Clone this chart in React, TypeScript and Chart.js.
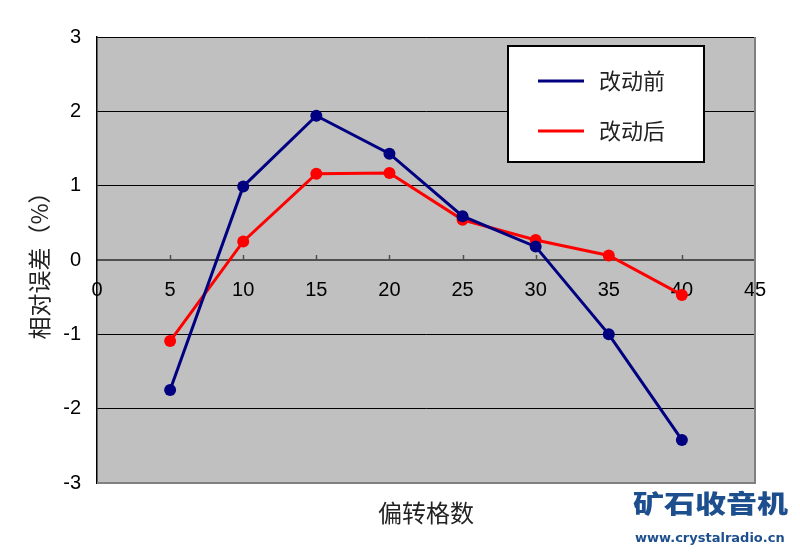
import React, { useEffect, useRef } from "react";
import { Chart, registerables } from "chart.js";

Chart.register(...registerables);

const xValues = [5, 10, 15, 20, 25, 30, 35, 40];
const beforeValues = [-1.75, 0.99, 1.94, 1.43, 0.59, 0.18, -1.0, -2.42];
const afterValues = [-1.09, 0.25, 1.16, 1.17, 0.54, 0.27, 0.06, -0.47];
const seriesNames = ["改动前", "改动后"];
const seriesColors = ["#000080", "#ff0000"];
const xTitle = "偏转格数";
const yTitle = "相对误差（%）";
const xMin = 0, xMax = 45, xStep = 5;
const yMin = -3, yMax = 3, yStep = 1;

const CJK = '"Noto Sans CJK SC", "Noto Sans", sans-serif';
const NUM = '"Liberation Sans", Arial, sans-serif';

const plotBg = {
  id: "plotBg",
  beforeDraw(chart: any) {
    const { ctx, chartArea: a } = chart;
    ctx.save();
    ctx.fillStyle = "#c0c0c0";
    ctx.fillRect(a.left, a.top, a.right - a.left, a.bottom - a.top);
    ctx.restore();
  },
};

const decor = {
  id: "decor",
  beforeDatasetsDraw(chart: any) {
    const { ctx, chartArea: a, scales } = chart;
    ctx.save();
    ctx.strokeStyle = "#808080";
    ctx.lineWidth = 2;
    ctx.beginPath();
    ctx.moveTo(a.right, a.top);
    ctx.lineTo(a.right, a.bottom);
    ctx.lineTo(a.left, a.bottom);
    ctx.stroke();
    const y0 = scales.y.getPixelForValue(0);
    ctx.strokeStyle = "#505050";
    ctx.lineWidth = 1.5;
    for (let v = xMin + xStep; v < xMax; v += xStep) {
      const px = Math.round(scales.x.getPixelForValue(v)) + 0.5;
      ctx.beginPath();
      ctx.moveTo(px, y0);
      ctx.lineTo(px, y0 - 5);
      ctx.stroke();
    }
    ctx.restore();
  },
  afterDraw(chart: any) {
    const { ctx, chartArea: a } = chart;
    const bx = a.left + 411;
    const by = a.top + 9;
    const bw = 196;
    const bh = 116;
    ctx.save();
    ctx.fillStyle = "#ffffff";
    ctx.fillRect(bx, by, bw, bh);
    ctx.strokeStyle = "#000000";
    ctx.lineWidth = 2;
    ctx.strokeRect(bx, by, bw, bh);
    const rows = [35, 85];
    rows.forEach((dy, i) => {
      const yy = by + dy;
      ctx.strokeStyle = seriesColors[i];
      ctx.lineWidth = 3;
      ctx.beginPath();
      ctx.moveTo(bx + 30, yy);
      ctx.lineTo(bx + 76, yy);
      ctx.stroke();
      ctx.fillStyle = "#222222";
      ctx.font = `22px ${CJK}`;
      ctx.textAlign = "left";
      ctx.textBaseline = "middle";
      ctx.fillText(seriesNames[i], bx + 91, yy);
    });
    ctx.restore();
  },
};

export default function App() {
  const canvasRef = useRef<HTMLCanvasElement | null>(null);

  useEffect(() => {
    const canvas = canvasRef.current;
    if (!canvas) return;
    const chart = new Chart(canvas, {
      type: "line",
      data: {
        datasets: [
          {
            label: seriesNames[0],
            data: xValues.map((x, i) => ({ x, y: beforeValues[i] })),
            borderColor: seriesColors[0],
            backgroundColor: seriesColors[0],
            borderWidth: 3,
            pointRadius: 6,
            pointBorderWidth: 0,
            pointBackgroundColor: seriesColors[0],
            tension: 0,
          },
          {
            label: seriesNames[1],
            data: xValues.map((x, i) => ({ x, y: afterValues[i] })),
            borderColor: seriesColors[1],
            backgroundColor: seriesColors[1],
            borderWidth: 3,
            pointRadius: 6,
            pointBorderWidth: 0,
            pointBackgroundColor: seriesColors[1],
            tension: 0,
          },
        ],
      },
      options: {
        animation: false,
        responsive: false,
        layout: { padding: { left: 0, right: 45, top: 37, bottom: 0 } },
        plugins: {
          legend: { display: false },
          tooltip: { enabled: false },
        },
        scales: {
          x: {
            type: "linear",
            position: { y: 0 } as any,
            min: xMin,
            max: xMax,
            ticks: {
              stepSize: xStep,
              padding: 18,
              color: "#000000",
              font: { family: NUM, size: 20 },
            },
            grid: { display: true, drawOnChartArea: false, drawTicks: false },
            border: { display: true, color: "#505050", width: 2 },
          },
          xt: {
            type: "linear",
            position: "bottom",
            min: xMin,
            max: xMax,
            ticks: { display: false },
            grid: { display: false },
            border: { display: false },
            title: {
              display: true,
              text: xTitle,
              color: "#222222",
              font: { family: CJK, size: 24 },
              padding: { top: 0, bottom: 25 },
            },
            afterFit(scale: any) {
              scale.height = 69;
            },
          },
          y: {
            type: "linear",
            min: yMin,
            max: yMax,
            ticks: {
              stepSize: yStep,
              padding: 16,
              color: "#000000",
              font: { family: NUM, size: 20 },
            },
            grid: {
              drawTicks: false,
              color: (c: any) =>
                c.tick && c.tick.value === 0
                  ? "#505050"
                  : c.tick && c.tick.value === yMin
                  ? "#808080"
                  : "#000000",
              lineWidth: (c: any) =>
                c.tick && (c.tick.value === 0 || c.tick.value === yMin) ? 2 : 1,
            },
            border: { display: true, color: "#000000", width: 1.5 },
            title: {
              display: true,
              text: yTitle,
              color: "#222222",
              font: { family: CJK, size: 23 },
              padding: { top: 25, bottom: 0 },
            },
            afterFit(scale: any) {
              scale.width = 97;
            },
          },
        },
      },
      plugins: [plotBg, decor],
    });
    return () => chart.destroy();
  }, []);

  return (
    <div
      style={{
        position: "fixed",
        left: 0,
        top: 0,
        width: 800,
        height: 552,
        background: "#ffffff",
        overflow: "hidden",
      }}
    >
      <canvas ref={canvasRef} width={800} height={552} style={{ width: 800, height: 552, display: "block" }} />
      <div
        style={{
          position: "absolute",
          left: 633,
          top: 489,
          width: 160,
          fontFamily: CJK,
          fontWeight: 900,
          fontSize: 31,
          lineHeight: "34px",
          color: "#1d4f8e",
          letterSpacing: 0,
          transform: "scaleY(0.8)",
          transformOrigin: "left top",
          whiteSpace: "nowrap",
        }}
      >
        矿石收音机
      </div>
      <div
        style={{
          position: "absolute",
          left: 635,
          top: 530,
          fontFamily: '"DejaVu Sans", sans-serif',
          fontWeight: 700,
          fontSize: 13,
          lineHeight: "16px",
          color: "#1d4f8e",
          whiteSpace: "nowrap",
        }}
      >
        www.crystalradio.cn
      </div>
    </div>
  );
}
